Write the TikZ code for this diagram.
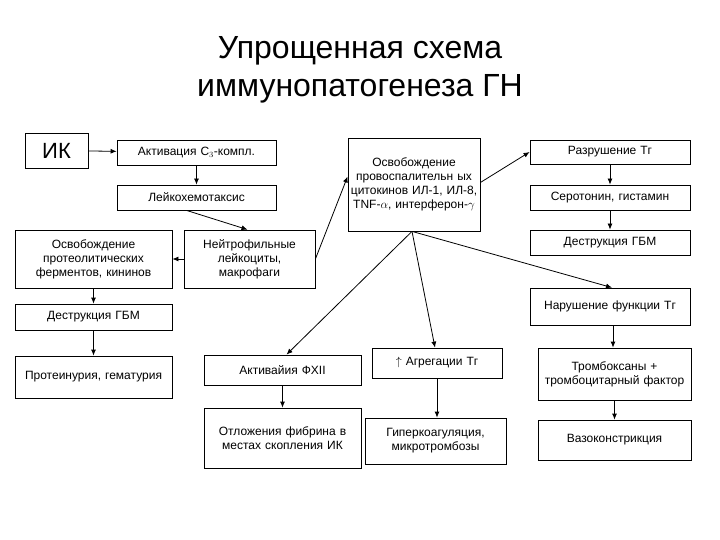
\documentclass[tikz,border=0pt]{standalone}
\usepackage{fontspec}
\setmainfont{Liberation Sans}
\usetikzlibrary{arrows.meta}
\begin{document}
\begin{tikzpicture}[x=1pt,y=-1pt,
  bx/.style={draw,thick,align=center,inner sep=1pt,font=\fontsize{12}{14}\selectfont},
  ar/.style={-{Latex[length=6pt,width=5pt]},thick}]
\useasboundingbox (0,0) rectangle (720,540);
\fill[white] (0,0) rectangle (720,540);
\node[font=\fontsize{32}{38}\selectfont,align=center] (title) at (360,70) {Упрощенная схема\\иммунопатогенеза ГН};
\newcommand\bxat[6]{\node[bx,minimum width=#3-#1,minimum height=#4-#2,text width=#3-#1-4] (#5) at ({(#1+#3)/2},{(#2+#4)/2}) {#6};}
\bxat{25}{133}{88}{168}{ik}{\fontsize{22}{26}\selectfont ИК}
\bxat{117}{140}{276}{165}{act}{Активация С$_3$-компл.}
\bxat{117}{185}{276}{210}{lch}{Лейкохемотаксис}
\bxat{15}{230}{172}{288}{prot}{Освобождение протеолитических ферментов, кининов}
\bxat{184}{230}{315}{288}{neut}{Нейтрофильные лейкоциты, макрофаги}
\bxat{15}{304}{172}{330}{dl}{Деструкция ГБМ}
\bxat{348}{138}{480}{231}{cyt}{Освобождение провоспалительн ых цитокинов ИЛ-1, ИЛ-8, TNF-$\alpha$, интерферон-$\gamma$}
\bxat{530}{140}{690}{164}{raz}{Разрушение Тг}
\bxat{530}{185}{690}{210}{ser}{Серотонин, гистамин}
\bxat{530}{230}{690}{255}{dr}{Деструкция ГБМ}
\bxat{530}{288}{690}{325}{nar}{Нарушение функции Тг}
\bxat{15}{356}{172}{398}{pu}{Протеинурия, гематурия}
\bxat{204}{355}{361}{385}{fx}{Активайия ФХII}
\bxat{204}{408}{361}{468}{fib}{Отложения фибрина в местах скопления ИК}
\bxat{372}{348}{502}{378}{agr}{$\uparrow$ Агрегации Тг}
\bxat{365}{418}{506}{464}{hyp}{Гиперкоагуляция, микротромбозы}
\bxat{538}{348}{691}{400}{trb}{Тромбоксаны + тромбоцитарный фактор}
\bxat{538}{420}{691}{460}{vaso}{Вазоконстрикция}
\draw[ar] (ik) -- (act);
\draw[ar] (act) -- (lch);
\draw[ar] (lch.south) ++(-10,0) coordinate (l1) (l1) -- ([xshift=-2pt]neut.north);
\draw[ar] (neut) -- (prot);
\draw[ar] (neut.east) -- ([yshift=8pt]cyt.west);
\draw[ar] (prot) -- (dl);
\draw[ar] (dl) -- (pu);
\draw[ar] ([yshift=2pt]cyt.east) -- ([yshift=0pt]raz.west);
\draw[ar] (raz) -- (ser);
\draw[ar] (ser) -- (dr);
\coordinate (cb) at ([xshift=-2pt]cyt.south);
\draw[ar] (cb) -- ([xshift=2pt]nar.north);
\draw[ar] (cb) -- ([xshift=4pt]fx.north);
\draw[ar] (cb) -- ([xshift=-2pt]agr.north);
\draw[ar] ([xshift=3pt]nar.south) -- ([xshift=3pt]trb.north -| nar.south);
\draw[ar] (fx) -- (fib);
\draw[ar] (agr) -- (agr.south |- hyp.north);
\draw[ar] (trb) -- (vaso);
\end{tikzpicture}
\end{document}
